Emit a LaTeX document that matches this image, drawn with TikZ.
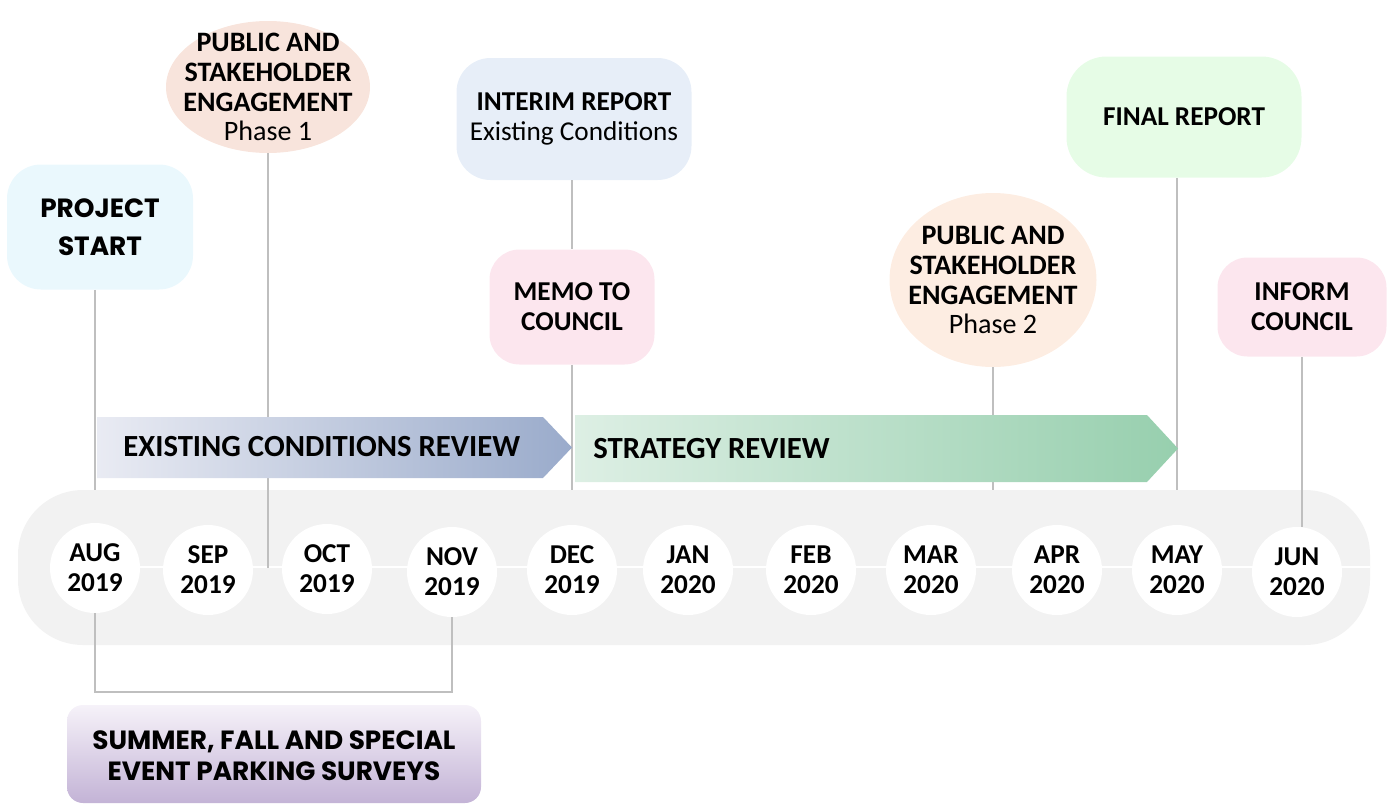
\documentclass[tikz,border=0pt]{standalone}
\usepackage{fontspec}
\setmainfont{Carlito}
\newfontfamily\gothic{Poppins}
\usetikzlibrary{shapes.geometric}
\newcommand\pxu{0.02cm}
\definecolor{lineg}{HTML}{BFBFBF}
\definecolor{bandg}{HTML}{F2F2F2}
\definecolor{psfill}{HTML}{EAF8FD}
\definecolor{ponefill}{HTML}{F8E4DC}
\definecolor{irfill}{HTML}{E7EEF8}
\definecolor{pinkfill}{HTML}{FCE6EE}
\definecolor{ptwofill}{HTML}{FDEDE2}
\definecolor{frfill}{HTML}{E6FCE6}
\definecolor{ecl}{HTML}{E9EBF3}
\definecolor{ecr}{HTML}{9AABCB}
\definecolor{srl}{HTML}{DDEFE4}
\definecolor{srr}{HTML}{97CFAE}
\definecolor{svtop}{HTML}{F6F2F9}
\definecolor{svbot}{HTML}{C3B3D6}
\tikzset{
  rbox/.style={draw=none, rounded corners=34*\pxu, align=center, inner sep=0pt,
    font=\bfseries\fontsize{15.5}{17}\selectfont},
  ell/.style={ellipse, draw=none, align=center, inner sep=-20pt,
    font=\fontsize{16}{17}\selectfont},
  month/.style={circle, fill=white, minimum size=90*\pxu, inner sep=0pt, align=center,
    font=\bfseries\fontsize{15.5}{17}\selectfont},
  conn/.style={draw=lineg, line width=1.1pt},
  barlabel/.style={anchor=west, inner sep=0pt, font=\bfseries\fontsize{17.5}{20}\selectfont}
}
\begin{document}
\begin{tikzpicture}[x=0.02cm, y=-0.02cm]
\useasboundingbox (0,0) rectangle (1387,805);
% band
\node[fill=bandg, rounded corners=65*\pxu, minimum width=1352*\pxu, minimum height=155*\pxu, inner sep=0pt] (band) at (694,567.5) {};
\coordinate (tlstart) at (95,567);
\coordinate (bandend) at (1370,567);
\draw[white, line width=1.3pt] (tlstart) -- (bandend);
% month circles
\node[month] (aug) at (95,568) {AUG\\2019};
\node[month] (sep) at (208,570) {SEP\\2019};
\node[month] (oct) at (327,569) {OCT\\2019};
\node[month] (nov) at (452,572) {NOV\\2019};
\node[month] (dec) at (572,570) {DEC\\2019};
\node[month] (jan) at (688,570) {JAN\\2020};
\node[month] (feb) at (811,570) {FEB\\2020};
\node[month] (mar) at (931,570) {MAR\\2020};
\node[month] (apr) at (1057,570) {APR\\2020};
\node[month] (may) at (1177,570) {MAY\\2020};
\node[month] (jun) at (1297,572) {JUN\\2020};
% top nodes
\node[rbox, fill=psfill, minimum width=186*\pxu, minimum height=125*\pxu,
  font=\gothic\bfseries\fontsize{15}{21.5}\selectfont] (ps) at (100,227) {PROJECT\\START};
\node[ell, fill=ponefill, minimum width=204*\pxu, minimum height=132*\pxu] (p1) at (268,87)
  {\textbf{PUBLIC AND}\\\textbf{STAKEHOLDER}\\\textbf{ENGAGEMENT}\\Phase 1};
\node[rbox, fill=irfill, minimum width=235*\pxu, minimum height=122*\pxu] (ir) at (574,119)
  {INTERIM REPORT\\\mdseries Existing Conditions};
\node[rbox, fill=pinkfill, rounded corners=30*\pxu, minimum width=165*\pxu, minimum height=115*\pxu] (mc) at (572,307)
  {MEMO TO\\COUNCIL};
\node[ell, fill=ptwofill, minimum width=207*\pxu, minimum height=174*\pxu] (p2) at (993,280)
  {\textbf{PUBLIC AND}\\\textbf{STAKEHOLDER}\\\textbf{ENGAGEMENT}\\Phase 2};
\node[rbox, fill=frfill, rounded corners=40*\pxu, minimum width=235*\pxu, minimum height=121*\pxu] (fr) at (1184,117)
  {FINAL REPORT};
\node[rbox, fill=pinkfill, rounded corners=30*\pxu, minimum width=169*\pxu, minimum height=99*\pxu] (ic) at (1302,307)
  {INFORM\\COUNCIL};
% connectors
\coordinate (brk) at (0,692);
\draw[conn] (ps.south -| aug.center) -- (aug.center |- band.north);
\draw[conn] (p1.south) -- (p1.south |- aug.center);
\draw[conn] (ir.south -| mc.north) -- (mc.north);
\draw[conn] (mc.south) -- (mc.south |- band.north);
\draw[conn] (p2.south) -- (p2.south |- band.north);
\draw[conn] (fr.south -| may.center) -- (may.center |- band.north);
\draw[conn] (ic.south) -- (ic.south |- jun.north);
\draw[conn] (aug.south) -- (aug.south |- brk) -| (nov.south);
% arrows
\shade[left color=ecl, right color=ecr] (97,417) -- (543,417) -- (572,447.5) -- (543,478) -- (97,478) -- cycle;
\shade[left color=srl, right color=srr] (575,415) -- (1147,415) -- (1178,448.5) -- (1147,482) -- (575,482) -- cycle;
\node[barlabel] (ecr) at (123,447) {EXISTING CONDITIONS REVIEW};
\node[barlabel] (srl) at (593,449) {STRATEGY REVIEW};
% survey box
\shade[top color=svtop, bottom color=svbot, rounded corners=16*\pxu] (67,705) rectangle (481,803);
\node[align=center, inner sep=0pt, font=\gothic\bfseries\fontsize{15}{17.5}\selectfont] (sv) at (274,756)
  {SUMMER, FALL AND SPECIAL\\EVENT PARKING SURVEYS};
\end{tikzpicture}
\end{document}
